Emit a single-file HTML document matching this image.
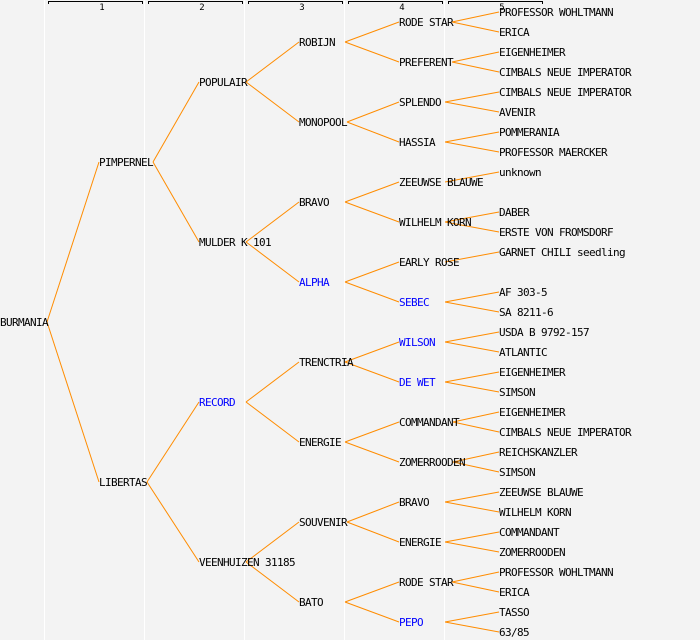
<!DOCTYPE html>
<html><head><meta charset="utf-8"><style>
html,body{margin:0;padding:0;background:#f3f3f3;}
svg{display:block;}
text{font-family:"DejaVu Sans Mono","Liberation Mono",monospace;font-size:11px;letter-spacing:-0.62px;fill:#000;}
.b{fill:#0000ff;}
.n{font-size:9px;letter-spacing:0;}
line.l{stroke:#ff8c00;stroke-width:1;}
</style></head><body>
<svg width="700" height="640" xmlns="http://www.w3.org/2000/svg">
<rect width="700" height="640" fill="#f3f3f3"/>
<g stroke="#ffffff" stroke-width="1">
<line x1="44.5" y1="0" x2="44.5" y2="640"/><line x1="144.5" y1="0" x2="144.5" y2="640"/><line x1="244.5" y1="0" x2="244.5" y2="640"/><line x1="344.5" y1="0" x2="344.5" y2="640"/><line x1="444.5" y1="0" x2="444.5" y2="640"/>
</g>
<g stroke="#000" stroke-width="1" fill="none">
<path d="M48.5 4V1.5H142.5V4"/><path d="M148.5 4V1.5H242.5V4"/><path d="M248.5 4V1.5H342.5V4"/><path d="M348.5 4V1.5H442.5V4"/><path d="M448.5 4V1.5H542.5V4"/>
</g>
<g text-anchor="middle">
<text class="n" x="102" y="10">1</text><text class="n" x="202" y="10">2</text><text class="n" x="302" y="10">3</text><text class="n" x="402" y="10">4</text><text class="n" x="502" y="10">5</text>
</g>
<g>
<line class="l" x1="47" y1="322" x2="99" y2="162"/><line class="l" x1="47" y1="322" x2="99" y2="482"/>
<line class="l" x1="153" y1="162" x2="199" y2="82"/><line class="l" x1="153" y1="162" x2="199" y2="242"/>
<line class="l" x1="147" y1="482" x2="199" y2="402"/><line class="l" x1="147" y1="482" x2="199" y2="562"/>
<line class="l" x1="246" y1="82" x2="299" y2="42"/><line class="l" x1="246" y1="82" x2="299" y2="122"/>
<line class="l" x1="246" y1="242" x2="299" y2="202"/><line class="l" x1="246" y1="242" x2="299" y2="282"/>
<line class="l" x1="246" y1="402" x2="299" y2="362"/><line class="l" x1="246" y1="402" x2="299" y2="442"/>
<line class="l" x1="246" y1="562" x2="299" y2="522"/><line class="l" x1="246" y1="562" x2="299" y2="602"/>
<line class="l" x1="345" y1="42" x2="399" y2="22"/><line class="l" x1="345" y1="42" x2="399" y2="62"/>
<line class="l" x1="347" y1="122" x2="399" y2="102"/><line class="l" x1="347" y1="122" x2="399" y2="142"/>
<line class="l" x1="345" y1="202" x2="399" y2="182"/><line class="l" x1="345" y1="202" x2="399" y2="222"/>
<line class="l" x1="345" y1="282" x2="399" y2="262"/><line class="l" x1="345" y1="282" x2="399" y2="302"/>
<line class="l" x1="345" y1="362" x2="399" y2="342"/><line class="l" x1="345" y1="362" x2="399" y2="382"/>
<line class="l" x1="345" y1="442" x2="399" y2="422"/><line class="l" x1="345" y1="442" x2="399" y2="462"/>
<line class="l" x1="347" y1="522" x2="399" y2="502"/><line class="l" x1="347" y1="522" x2="399" y2="542"/>
<line class="l" x1="345" y1="602" x2="399" y2="582"/><line class="l" x1="345" y1="602" x2="399" y2="622"/>
<line class="l" x1="452" y1="22" x2="499" y2="12"/><line class="l" x1="452" y1="22" x2="499" y2="32"/>
<line class="l" x1="452" y1="62" x2="499" y2="52"/><line class="l" x1="452" y1="62" x2="499" y2="72"/>
<line class="l" x1="445" y1="102" x2="499" y2="92"/><line class="l" x1="445" y1="102" x2="499" y2="112"/>
<line class="l" x1="445" y1="142" x2="499" y2="132"/><line class="l" x1="445" y1="142" x2="499" y2="152"/>
<line class="l" x1="445" y1="182" x2="499" y2="172"/>
<line class="l" x1="445" y1="222" x2="499" y2="212"/><line class="l" x1="445" y1="222" x2="499" y2="232"/>
<line class="l" x1="445" y1="262" x2="499" y2="252"/>
<line class="l" x1="445" y1="302" x2="499" y2="292"/><line class="l" x1="445" y1="302" x2="499" y2="312"/>
<line class="l" x1="445" y1="342" x2="499" y2="332"/><line class="l" x1="445" y1="342" x2="499" y2="352"/>
<line class="l" x1="445" y1="382" x2="499" y2="372"/><line class="l" x1="445" y1="382" x2="499" y2="392"/>
<line class="l" x1="453" y1="422" x2="499" y2="412"/><line class="l" x1="453" y1="422" x2="499" y2="432"/>
<line class="l" x1="453" y1="462" x2="499" y2="452"/><line class="l" x1="453" y1="462" x2="499" y2="472"/>
<line class="l" x1="445" y1="502" x2="499" y2="492"/><line class="l" x1="445" y1="502" x2="499" y2="512"/>
<line class="l" x1="445" y1="542" x2="499" y2="532"/><line class="l" x1="445" y1="542" x2="499" y2="552"/>
<line class="l" x1="452" y1="582" x2="499" y2="572"/><line class="l" x1="452" y1="582" x2="499" y2="592"/>
<line class="l" x1="445" y1="622" x2="499" y2="612"/><line class="l" x1="445" y1="622" x2="499" y2="632"/>
</g>
<g>
<text x="0" y="326">BURMANIA</text>
<text x="99" y="166">PIMPERNEL</text>
<text x="99" y="486">LIBERTAS</text>
<text x="199" y="86">POPULAIR</text>
<text x="199" y="246">MULDER K 101</text>
<text x="199" y="406" class="b">RECORD</text>
<text x="199" y="566">VEENHUIZEN 31185</text>
<text x="299" y="46">ROBIJN</text>
<text x="299" y="126">MONOPOOL</text>
<text x="299" y="206">BRAVO</text>
<text x="299" y="286" class="b">ALPHA</text>
<text x="299" y="366">TRENCTRIA</text>
<text x="299" y="446">ENERGIE</text>
<text x="299" y="526">SOUVENIR</text>
<text x="299" y="606">BATO</text>
<text x="399" y="26">RODE STAR</text>
<text x="399" y="66">PREFERENT</text>
<text x="399" y="106">SPLENDO</text>
<text x="399" y="146">HASSIA</text>
<text x="399" y="186">ZEEUWSE BLAUWE</text>
<text x="399" y="226">WILHELM KORN</text>
<text x="399" y="266">EARLY ROSE</text>
<text x="399" y="306" class="b">SEBEC</text>
<text x="399" y="346" class="b">WILSON</text>
<text x="399" y="386" class="b">DE WET</text>
<text x="399" y="426">COMMANDANT</text>
<text x="399" y="466">ZOMERROODEN</text>
<text x="399" y="506">BRAVO</text>
<text x="399" y="546">ENERGIE</text>
<text x="399" y="586">RODE STAR</text>
<text x="399" y="626" class="b">PEPO</text>
<text x="499" y="16">PROFESSOR WOHLTMANN</text>
<text x="499" y="36">ERICA</text>
<text x="499" y="56">EIGENHEIMER</text>
<text x="499" y="76">CIMBALS NEUE IMPERATOR</text>
<text x="499" y="96">CIMBALS NEUE IMPERATOR</text>
<text x="499" y="116">AVENIR</text>
<text x="499" y="136">POMMERANIA</text>
<text x="499" y="156">PROFESSOR MAERCKER</text>
<text x="499" y="176">unknown</text>
<text x="499" y="216">DABER</text>
<text x="499" y="236">ERSTE VON FROMSDORF</text>
<text x="499" y="256">GARNET CHILI seedling</text>
<text x="499" y="296">AF 303-5</text>
<text x="499" y="316">SA 8211-6</text>
<text x="499" y="336">USDA B 9792-157</text>
<text x="499" y="356">ATLANTIC</text>
<text x="499" y="376">EIGENHEIMER</text>
<text x="499" y="396">SIMSON</text>
<text x="499" y="416">EIGENHEIMER</text>
<text x="499" y="436">CIMBALS NEUE IMPERATOR</text>
<text x="499" y="456">REICHSKANZLER</text>
<text x="499" y="476">SIMSON</text>
<text x="499" y="496">ZEEUWSE BLAUWE</text>
<text x="499" y="516">WILHELM KORN</text>
<text x="499" y="536">COMMANDANT</text>
<text x="499" y="556">ZOMERROODEN</text>
<text x="499" y="576">PROFESSOR WOHLTMANN</text>
<text x="499" y="596">ERICA</text>
<text x="499" y="616">TASSO</text>
<text x="499" y="636">63/85</text>
</g>
</svg>
</body></html>
